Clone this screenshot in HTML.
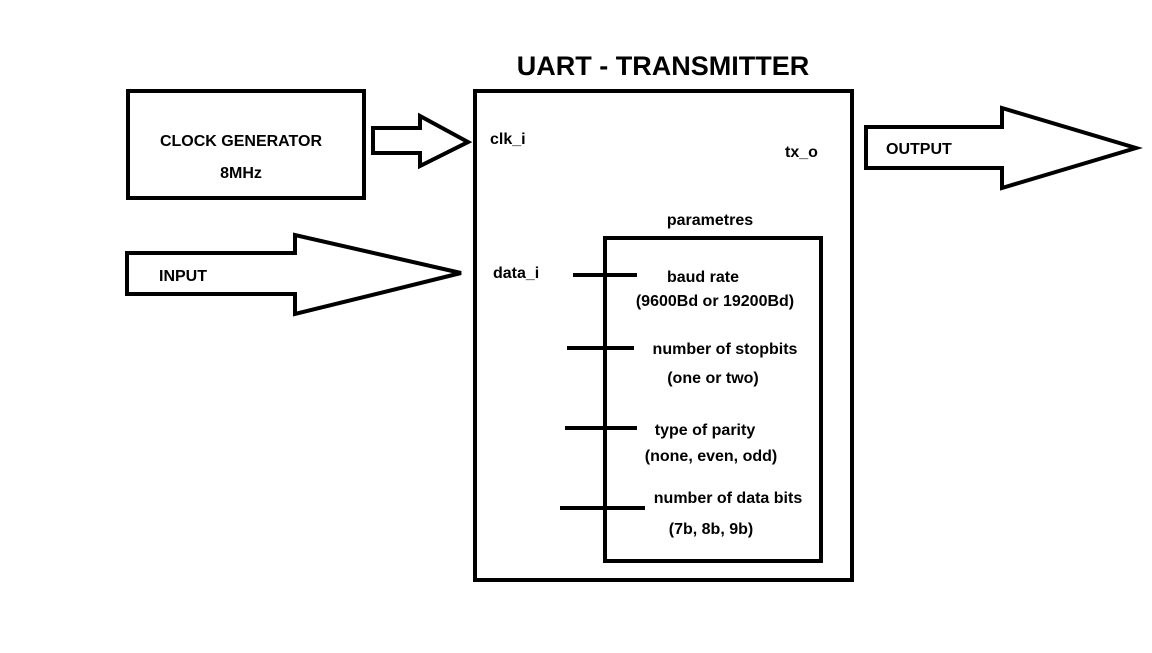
<!DOCTYPE html>
<html><head><style>
body{margin:0;background:#fff}
svg text{font-family:"Liberation Sans",sans-serif;font-weight:bold;fill:#000}
</style></head><body>
<svg width="1152" height="648" viewBox="0 0 1152 648" xmlns="http://www.w3.org/2000/svg">
<rect width="1152" height="648" fill="#fff"/>
<g fill="none" stroke="#000" stroke-width="4" stroke-linejoin="miter">
<rect x="128" y="91" width="236" height="107"/>
<rect x="475" y="91" width="377" height="489"/>
<rect x="605" y="238" width="216" height="323"/>
<polygon points="373,128 420,128 420,116 468,142 420,166 420,153 373,153"/>
<polygon points="127,253 295,253 295,235 461,273 295,314 295,294 127,294"/>
<polygon points="866,127 1002,127 1002,108 1136,148 1002,188 1002,168 866,168"/>
<line x1="573" y1="275" x2="637" y2="275"/>
<line x1="567" y1="348" x2="634" y2="348"/>
<line x1="565" y1="428" x2="637" y2="428"/>
<line x1="560" y1="508" x2="645" y2="508"/>
</g>
<text x="663" y="75" font-size="27" text-anchor="middle">UART - TRANSMITTER</text>
<g font-size="16">
<text x="241" y="146" text-anchor="middle">CLOCK GENERATOR</text>
<text x="241" y="178" text-anchor="middle">8MHz</text>
<text x="159" y="281">INPUT</text>
<text x="886" y="154">OUTPUT</text>
<text x="490" y="144">clk_i</text>
<text x="493" y="278">data_i</text>
<text x="785" y="157">tx_o</text>
<text x="710" y="225" text-anchor="middle">parametres</text>
<text x="703" y="282" text-anchor="middle">baud rate</text>
<text x="715" y="306" text-anchor="middle">(9600Bd or 19200Bd)</text>
<text x="725" y="354" text-anchor="middle">number of stopbits</text>
<text x="713" y="383" text-anchor="middle">(one or two)</text>
<text x="705" y="435" text-anchor="middle">type of parity</text>
<text x="711" y="461" text-anchor="middle">(none, even, odd)</text>
<text x="728" y="503" text-anchor="middle">number of data bits</text>
<text x="711" y="534" text-anchor="middle">(7b, 8b, 9b)</text>
</g>
</svg>
</body></html>
